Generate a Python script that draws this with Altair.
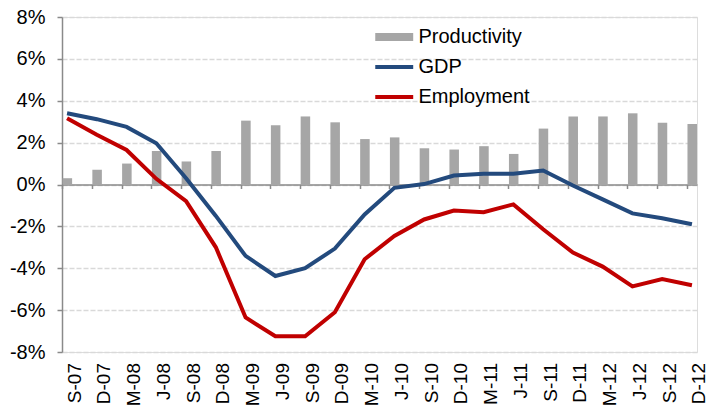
import json
import altair as alt
import pandas as pd

quarters = ["S-07", "D-07", "M-08", "J-08", "S-08", "D-08", "M-09", "J-09", "S-09", "D-09",
            "M-10", "J-10", "S-10", "D-10", "M-11", "J-11", "S-11", "D-11", "M-12", "J-12",
            "S-12", "D-12"]
productivity = [0.30, 0.70, 1.00, 1.60, 1.10, 1.60, 3.05, 2.83, 3.25, 2.97, 2.17, 2.25,
                1.73, 1.67, 1.83, 1.46, 2.67, 3.25, 3.25, 3.40, 2.95, 2.89]
gdp = [3.40, 3.12, 2.75, 1.97, 0.30, -1.50, -3.41, -4.37, -4.00, -3.06, -1.43, -0.16,
       0.02, 0.43, 0.51, 0.51, 0.67, -0.05, -0.71, -1.38, -1.61, -1.90]
employment = [3.17, 2.38, 1.65, 0.27, -0.80, -3.00, -6.35, -7.25, -7.25, -6.10, -3.57, -2.46,
              -1.67, -1.24, -1.32, -0.95, -2.14, -3.25, -3.92, -4.87, -4.52, -4.81]
series_names = ["Productivity", "GDP", "Employment"]
series_colors = ["#a6a6a6", "#234a7d", "#c00000"]
y_ticks = [-8, -6, -4, -2, 0, 2, 4, 6, 8]

bars_df = pd.DataFrame({"idx": range(len(quarters)), "quarter": quarters,
                        "series": "Productivity", "value": productivity})
lines_df = pd.concat([
    pd.DataFrame({"idx": range(len(quarters)), "quarter": quarters, "series": "GDP", "value": gdp}),
    pd.DataFrame({"idx": range(len(quarters)), "quarter": quarters, "series": "Employment", "value": employment}),
], ignore_index=True)

FONT = "Liberation Sans"
FS = 20
AX = "#8a8a8a"

xscale = alt.Scale(domain=[0, 21.34], nice=False, zero=False)
yscale = alt.Scale(domain=[-8, 8], nice=False)

legend = alt.Legend(
    title=None, orient="none", legendX=308, legendY=8, padding=0,
    symbolType="M-1,0H7", symbolSize=90, labelOffset=28.5,
    labelFont=FONT, labelFontSize=FS, labelColor="#000000",
    clipHeight=24, rowPadding=6,
    symbolStrokeColor=alt.ExprRef("scale('color', datum.value)"),
    symbolFillColor="transparent",
    symbolStrokeWidth=alt.ExprRef("datum.value === 'Productivity' ? 8 : 4"),
    symbolOpacity=1,
)
color = alt.Color("series:N", scale=alt.Scale(domain=series_names, range=series_colors), legend=legend)

x_axis = alt.Axis(
    values=list(range(len(quarters))), labelExpr=json.dumps(quarters) + "[datum.value]",
    labelAngle=270, labelOffset=12, labelPadding=174, offset=-167.5,
    tickSize=4, tickColor=AX, tickWidth=1.5, domainColor=AX, domainWidth=1.5,
    grid=False, title=None, labelFont=FONT, labelFontSize=19, labelColor="#000000",
    labelOverlap=False, labelFlush=False, labelBound=False,
)
y_axis = alt.Axis(
    values=y_ticks, labelExpr="datum.value + '%'", tickSize=5, tickColor=AX, tickWidth=1.5,
    domainColor=AX, domainWidth=1.5, labelPadding=12, labelFont=FONT, labelFontSize=FS,
    labelColor="#000000", grid=True, gridColor="#d9d9d9", gridDash=[5, 2], gridWidth=1.5,
    title=None, labelOverlap=False,
)

bars = alt.Chart(bars_df).transform_calculate(
    x0="datum.idx + 0.02", x1="datum.idx + 0.34"
).mark_rect().encode(
    x=alt.X("x0:Q", scale=xscale, axis=x_axis),
    x2="x1:Q",
    y=alt.Y("value:Q", scale=yscale, axis=y_axis),
    y2=alt.datum(0),
    color=color,
)

lines = alt.Chart(lines_df).transform_calculate(
    lx="datum.idx + 0.17"
).mark_line(strokeWidth=4, strokeJoin="miter").encode(
    x=alt.X("lx:Q", scale=xscale, axis=x_axis),
    y=alt.Y("value:Q", scale=yscale, axis=y_axis),
    color=color,
    order="idx:Q",
)

chart = alt.layer(bars, lines).properties(
    width=635, height=335,
    autosize=alt.AutoSizeParams(type="none"),
    padding={"left": 62, "top": 17, "right": 11, "bottom": 55},
).configure_view(stroke=None).configure(background="white")

chart.save("out.html", embed_options={"renderer": "svg", "actions": False})
